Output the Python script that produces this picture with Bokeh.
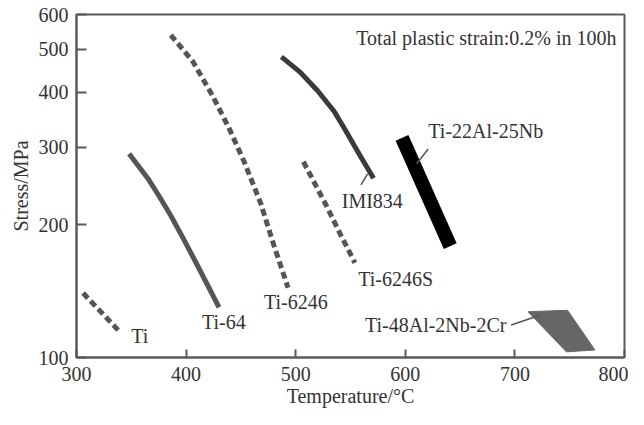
from bokeh.plotting import figure
from bokeh.models import Range1d, FixedTicker, PrintfTickFormatter
from bokeh.core.properties import value
from bokeh.embed import file_html
from bokeh.resources import INLINE

# ---- data (temperature in °C, stress in MPa) ----
ti_T = [306, 340]
ti_S = [140, 114]

ti64_T = [348, 357, 366, 376, 386, 397, 408, 419, 430]
ti64_S = [290, 271, 253, 231, 210, 187, 166, 147, 130]

ti6246_T = [386, 406, 424, 439, 453, 468, 480, 493]
ti6246_S = [539, 470, 393, 332, 278, 224, 180, 144]

imi834_T = [487, 504, 520, 535, 545, 558, 571]
imi834_S = [481, 444, 403, 362, 329, 289, 255]

ti6246s_T = [507, 528, 540, 554]
ti6246s_S = [278, 221, 192, 164]

ti22_T = [597, 641]
ti22_S = [315, 179]

ti48_T = [712, 748, 773, 747]
ti48_S = [127, 128, 104, 103]

x_ticks = [300, 400, 500, 600, 700, 800]
y_ticks = [100, 200, 300, 400, 500, 600]

# label annotations
lab_left_T = [350, 414.5, 471, 557, 542, 621]
lab_left_S = [112, 120.6, 133.6, 150.5, 226.3, 326.4]
lab_left_txt = ["Ti", "Ti-64", "Ti-6246", "Ti-6246S", "IMI834", "Ti-22Al-25Nb"]

lab_right_T = [692.3, 792.7]
lab_right_S = [118.3, 530]
lab_right_txt = ["Ti-48Al-2Nb-2Cr", "Total plastic strain:0.2% in 100h"]

leader_T = [[565.6, 559.5], [620.9, 610.3], [696.6, 722.7]]
leader_S = [[261.1, 246.4], [297.1, 275.2], [118.5, 124.7]]

FONT = value("Liberation Serif")
TXT = "#333333"
AX = "#5a5a5a"
FS = "20px"

p = figure(width=628, height=409, x_range=Range1d(300, 800), y_range=Range1d(100, 600),
           y_axis_type="log", output_backend="svg", toolbar_location=None,
           min_border_left=76, min_border_top=14, min_border_right=4, min_border_bottom=47)

p.grid.visible = False
p.outline_line_color = AX
p.outline_line_width = 2
p.background_fill_color = "white"
p.border_fill_color = "white"

for ax in (p.xaxis, p.yaxis):
    ax.axis_line_color = AX
    ax.axis_line_width = 2
    ax.major_tick_line_color = AX
    ax.major_tick_line_width = 2
    ax.major_tick_out = 0
    ax.minor_tick_line_color = None
    ax.major_label_text_font = "Liberation Serif"
    ax.major_label_text_font_size = FS
    ax.major_label_text_color = TXT
    ax.axis_label_text_font = "Liberation Serif"
    ax.axis_label_text_font_size = FS
    ax.axis_label_text_font_style = "normal"
    ax.axis_label_text_color = TXT

p.xaxis.ticker = FixedTicker(ticks=x_ticks)
p.yaxis.ticker = FixedTicker(ticks=y_ticks)
p.yaxis.formatter = PrintfTickFormatter(format="%d")
p.xaxis.major_tick_in = 8
p.yaxis.major_tick_in = 10
p.xaxis.axis_label = "Temperature/°C"
p.yaxis.axis_label = "Stress/MPa"
p.xaxis.major_label_standoff = 9
p.yaxis.major_label_standoff = 8
p.xaxis.axis_label_standoff = 1
p.yaxis.axis_label_standoff = 4

# curves
p.line(ti_T, ti_S, line_width=5, line_color="#555555", line_dash="7 4")
p.line(ti64_T, ti64_S, line_width=5, line_color="#555555", line_join="round")
p.line(ti6246_T, ti6246_S, line_width=5, line_color="#555555", line_dash="7 4",
       line_join="round")
p.line(imi834_T, imi834_S, line_width=5, line_color="#3a3a3a", line_join="round")
p.line(ti6246s_T, ti6246s_S, line_width=5, line_color="#555555", line_dash="7 4",
       line_join="round")
p.line(ti22_T, ti22_S, line_width=14, line_color="black", line_cap="butt")
p.patch(ti48_T, ti48_S, fill_color="#666666", line_color="#666666")

p.multi_line(leader_T, leader_S, line_color="#555555", line_width=1.5)

p.text(lab_left_T, lab_left_S, text=lab_left_txt, text_font=FONT, text_font_size=FS,
       text_color=TXT, text_align="left", text_baseline="middle")
p.text(lab_right_T, lab_right_S, text=lab_right_txt, text_font=FONT, text_font_size=FS,
       text_color=TXT, text_align="right", text_baseline="middle")

open("out.html", "w").write(file_html(p, INLINE))
